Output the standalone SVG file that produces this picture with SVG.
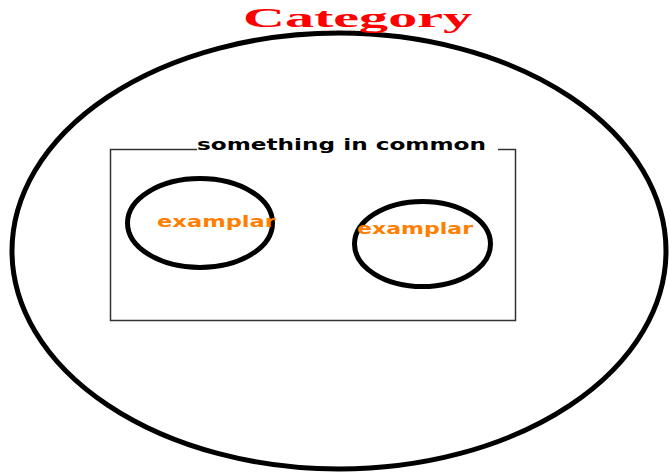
<svg xmlns="http://www.w3.org/2000/svg" width="669" height="473" viewBox="0 0 669 473">
<style>
.ring{fill:none;stroke:#000;stroke-width:5}
.ex{font-family:"DejaVu Sans","Liberation Sans",sans-serif;font-weight:bold;font-size:15px;fill:#ff8000}
</style>
<rect width="669" height="473" fill="#fff"/>
<g id="category">
<ellipse class="ring" cx="339" cy="251" rx="327" ry="218"/>
<text x="243" y="27" textLength="229" lengthAdjust="spacingAndGlyphs" font-family="Liberation Serif,serif" font-weight="bold" font-size="27" fill="#ff0000">Category</text>
</g>
<g id="common">
<path d="M197 149.5H110.5V320.5H515.5V149.5H498" fill="none" stroke="#333" stroke-width="1.5"/>
<text x="197" y="150" textLength="289" lengthAdjust="spacingAndGlyphs" font-family="DejaVu Sans,Liberation Sans,sans-serif" font-weight="bold" font-size="16" fill="#000">something in common</text>
</g>
<g id="exemplar1">
<ellipse class="ring" cx="200" cy="223" rx="72.5" ry="44.5"/>
<text class="ex" x="157" y="227" textLength="119" lengthAdjust="spacingAndGlyphs">examplar</text>
</g>
<g id="exemplar2">
<ellipse class="ring" cx="422.5" cy="244" rx="68" ry="42.5"/>
<text class="ex" x="357" y="234" textLength="116" lengthAdjust="spacingAndGlyphs">examplar</text>
</g>
<g id="connectors"/>
</svg>
